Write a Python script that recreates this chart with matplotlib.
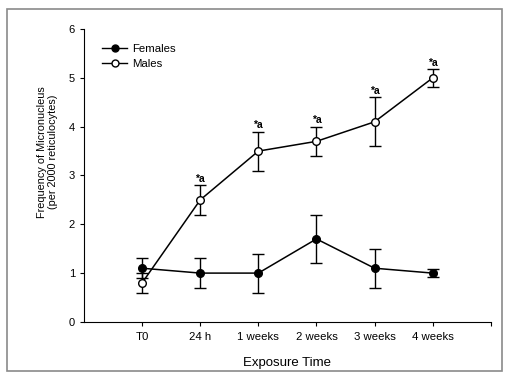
import matplotlib
matplotlib.use("Agg")
import matplotlib.pyplot as plt
from matplotlib.patches import Rectangle
from matplotlib.lines import Line2D

plt.rcParams['font.family'] = ['Liberation Sans', 'DejaVu Sans']

categories = ["T0", "24 h", "1 weeks", "2 weeks", "3 weeks", "4 weeks"]
females = [1.1, 1.0, 1.0, 1.7, 1.1, 1.0]
females_err = [0.2, 0.3, 0.4, 0.5, 0.4, 0.08]
males = [0.8, 2.5, 3.5, 3.7, 4.1, 5.0]
males_err = [0.2, 0.3, 0.4, 0.3, 0.5, 0.18]
male_marks = ["", "*a", "*a", "*a", "*a", "*a"]

fig = plt.figure(figsize=(5.06, 3.73), dpi=100)
fig.patches.append(Rectangle((0.014, 0.005), 0.978, 0.971, transform=fig.transFigure,
                             fill=False, edgecolor="#8a8a8a", linewidth=1.2))
ax = fig.add_axes([0.166, 0.137, 0.804, 0.785])

x = list(range(len(categories)))
ax.errorbar(x, females, yerr=females_err, color="black", marker="o", markersize=5.5,
            markerfacecolor="black", linewidth=1.1, elinewidth=1, capsize=4,
            capthick=1)
ax.errorbar(x, males, yerr=males_err, color="black", marker="o", markersize=5.5,
            markerfacecolor="white", markeredgewidth=1, linewidth=1.1, elinewidth=1,
            capsize=4, capthick=1)

for xi, m, e, s in zip(x, males, males_err, male_marks):
    if s:
        ax.annotate(s, (xi, m + e), xytext=(0, 1), textcoords="offset points",
                    ha="center", va="bottom", fontsize=7.5, fontweight="bold")

ax.set_xlim(-1, 6)
ax.set_ylim(0, 6)
ax.set_xticks(x + [6])
ax.set_xticklabels(categories + [""], fontsize=8.2)
ax.set_yticks(range(7))
ax.tick_params(axis="y", labelsize=8, length=3)
ax.tick_params(axis="x", length=3, pad=4)
for sp in ("top", "right"):
    ax.spines[sp].set_visible(False)
ax.set_xlabel("Exposure Time", fontsize=9.5, labelpad=11)
ax.set_ylabel("Frequency of Micronucleus\n(per 2000 reticulocytes)", fontsize=7.8)
ax.yaxis.set_label_coords(-0.063, 0.58)

handles = [
    Line2D([], [], color="black", marker="o", markersize=5, markerfacecolor="black",
           linewidth=1),
    Line2D([], [], color="black", marker="o", markersize=5, markerfacecolor="white",
           linewidth=1),
]
ax.legend(handles, ["Females", "Males"], loc="upper left",
          bbox_to_anchor=(0.025, 0.975), frameon=False, fontsize=8.2,
          handlelength=2.2, handletextpad=0.45, borderaxespad=0.3, labelspacing=0.42)

fig.savefig("out.png", dpi=100)
